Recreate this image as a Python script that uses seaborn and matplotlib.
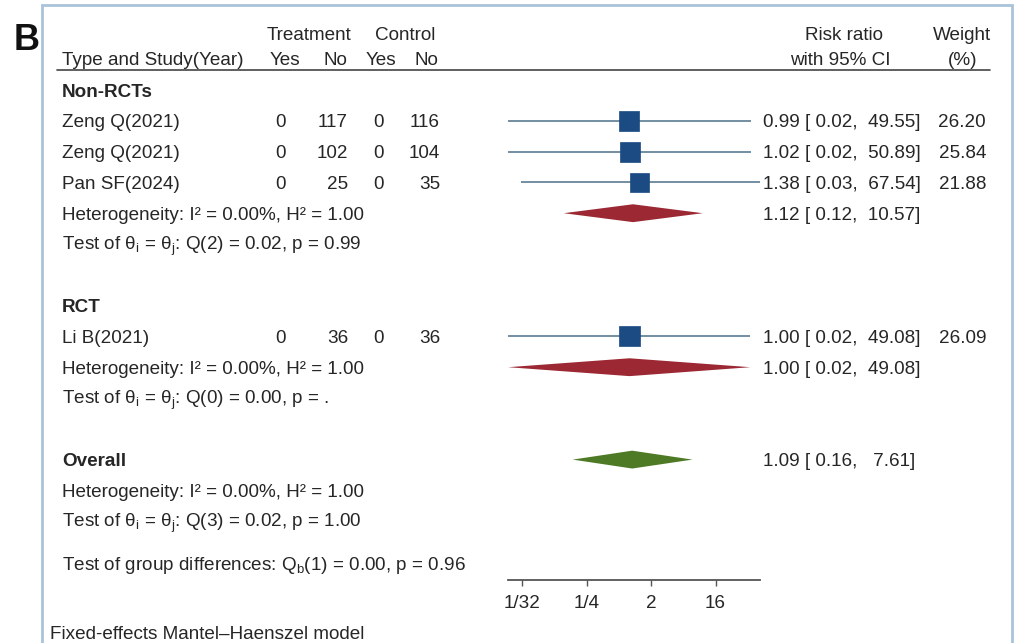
import numpy as np
import pandas as pd
import matplotlib.pyplot as plt
import seaborn as sns
from matplotlib.transforms import blended_transform_factory
from matplotlib.patches import Rectangle
from matplotlib.lines import Line2D

# data
studies = ["Zeng Q(2021)", "Zeng Q(2021)", "Pan SF(2024)", "Li B(2021)"]
groups = ["Non-RCTs", "Non-RCTs", "Non-RCTs", "RCT"]
treat_yes = [0, 0, 0, 0]
treat_no = [117, 102, 25, 36]
ctrl_yes = [0, 0, 0, 0]
ctrl_no = [116, 104, 35, 36]
rr = [0.99, 1.02, 1.38, 1.00]
ci_low = [0.02, 0.02, 0.03, 0.02]
ci_high = [49.55, 50.89, 67.54, 49.08]
weight = [26.20, 25.84, 21.88, 26.09]

summary_names = ["Non-RCTs", "RCT", "Overall"]
summary_rr = [1.12, 1.00, 1.09]
summary_low = [0.12, 0.02, 0.16]
summary_high = [10.57, 49.08, 7.61]
summary_colors = ["#9b2833", "#9b2833", "#4e7a26"]
het_text = ["Heterogeneity: I² = 0.00%, H² = 1.00"] * 3
test_text = [r"Test of $\theta_i$ = $\theta_j$: Q(2) = 0.02, p = 0.99",
             r"Test of $\theta_i$ = $\theta_j$: Q(0) = 0.00, p = .",
             r"Test of $\theta_i$ = $\theta_j$: Q(3) = 0.02, p = 1.00"]
group_diff = r"Test of group differences: $Q_b$(1) = 0.00, p = 0.96"
tick_vals = [1/32, 1/4, 2, 16]
tick_labels = ["1/32", "1/4", "2", "16"]

df = pd.DataFrame({"study": studies, "group": groups, "rr": rr, "low": ci_low,
                   "high": ci_high, "weight": weight})
df["row"] = [1, 2, 3, 8]
summary_rows = [4, 9, 12]
het_rows = [4, 9, 13]
test_rows = [5, 10, 14]
label_rows = [0, 7, 12]

sns.set_theme(style="white")
plt.rcParams["font.family"] = ["Liberation Sans", "DejaVu Sans"]
plt.rcParams["mathtext.fontset"] = "custom"
plt.rcParams["mathtext.rm"] = "Liberation Sans"
plt.rcParams["mathtext.it"] = "Liberation Sans"
plt.rcParams["mathtext.default"] = "regular"

W, H = 1016, 643
TXT = "#262626"
FS = 13.6
DY = 0.07  # small nudge so text sits level with the marks


def val(px):
    return 2 * 2 ** ((px - 651) / 21.5)


def row(py):
    return (py - 90) / 30.8


fig = plt.figure(figsize=(W / 100, H / 100), dpi=100)
fig.patch.set_facecolor("white")
ax = fig.add_axes([480 / W, 0, 320 / W, 1])
ax.set_facecolor("none")
ax.set_xscale("log", base=2)
ax.set_xlim(val(480), val(800))
ax.set_ylim(row(H), row(0))

# CI lines and weighted squares
ax.hlines(df["row"], df["low"], df["high"], color="#5b7a92", lw=1.2, zorder=2)
sns.scatterplot(data=df, x="rr", y="row", size="weight", sizes=(0, 210),
                size_norm=(0, 26.2), marker="s", color="#1b4b82",
                edgecolor="#1b4b82", linewidth=0.5, legend=False, ax=ax, zorder=3)

# diamonds
for m, lo, hi, r, c in zip(summary_rr, summary_low, summary_high, summary_rows, summary_colors):
    ax.fill([lo, m, hi, m], [r, r - 0.29, r, r + 0.29], color=c, lw=0, zorder=3)

# axis
for s in ["top", "left", "right"]:
    ax.spines[s].set_visible(False)
ax.spines["bottom"].set_position(("data", row(580)))
ax.spines["bottom"].set_bounds(min(ci_low), max(ci_high))
ax.spines["bottom"].set_color("#555555")
ax.spines["bottom"].set_linewidth(1.3)
ax.set_xticks(tick_vals)
ax.set_xticklabels(tick_labels)
ax.xaxis.set_minor_locator(plt.NullLocator())
ax.tick_params(axis="x", bottom=True, length=4, width=1, color="#555555",
               labelsize=FS, labelcolor=TXT, pad=7)
ax.set_yticks([])
ax.set_xlabel("")
ax.set_ylabel("")

tr = blended_transform_factory(fig.transFigure, ax.transData)


def txt(px, r, s, ha="left", **kw):
    ax.text(px / W, r + DY, s, transform=tr, ha=ha, va="center", fontsize=FS,
            color=TXT, clip_on=False, **kw)


# header
txt(309, row(33), "Treatment", ha="center")
txt(405, row(33), "Control", ha="center")
txt(62, row(58), "Type and Study(Year)")
txt(285, row(58), "Yes", ha="center")
txt(347, row(58), "No", ha="right")
txt(381, row(58), "Yes", ha="center")
txt(438, row(58), "No", ha="right")
txt(844, row(33), "Risk ratio", ha="center")
txt(840, row(58), "with 95% CI", ha="center")
txt(962, row(33), "Weight", ha="center")
txt(963, row(58), "(%)", ha="center")
fig.add_artist(Line2D([57 / W, 990 / W], [1 - 70 / H] * 2, color="#444444", lw=1.2))

# study rows
for i, d in df.iterrows():
    r = d["row"]
    txt(62, r, d["study"])
    txt(281, r, str(treat_yes[i]), ha="center")
    txt(348, r, str(treat_no[i]), ha="right")
    txt(378, r, str(ctrl_yes[i]), ha="center")
    txt(440, r, str(ctrl_no[i]), ha="right")
    txt(763, r, f"{d['rr']:.2f} [{d['low']:5.2f}, {d['high']:6.2f}]")
    txt(986, r, f"{d['weight']:.2f}", ha="right")

for k in range(3):
    txt(62, label_rows[k], summary_names[k], fontweight="bold")
    txt(62, het_rows[k], het_text[k])
    txt(62, test_rows[k], test_text[k])
    txt(763, summary_rows[k],
        f"{summary_rr[k]:.2f} [{summary_low[k]:5.2f}, {summary_high[k]:6.2f}]")

txt(62, row(563), group_diff)
txt(50, row(632), "Fixed-effects Mantel–Haenszel model")

# panel frame and letter
fig.add_artist(Rectangle((42 / W, -0.01), (1012 - 42) / W, 1.01 - 5 / H,
                         transform=fig.transFigure, fill=False,
                         ec="#a9c3da", lw=2))
fig.text(27 / W, 1 - 40 / H, "B", ha="center", va="center", fontsize=26,
         fontweight="bold", color="#111111")

fig.savefig("out.png", dpi=100)
